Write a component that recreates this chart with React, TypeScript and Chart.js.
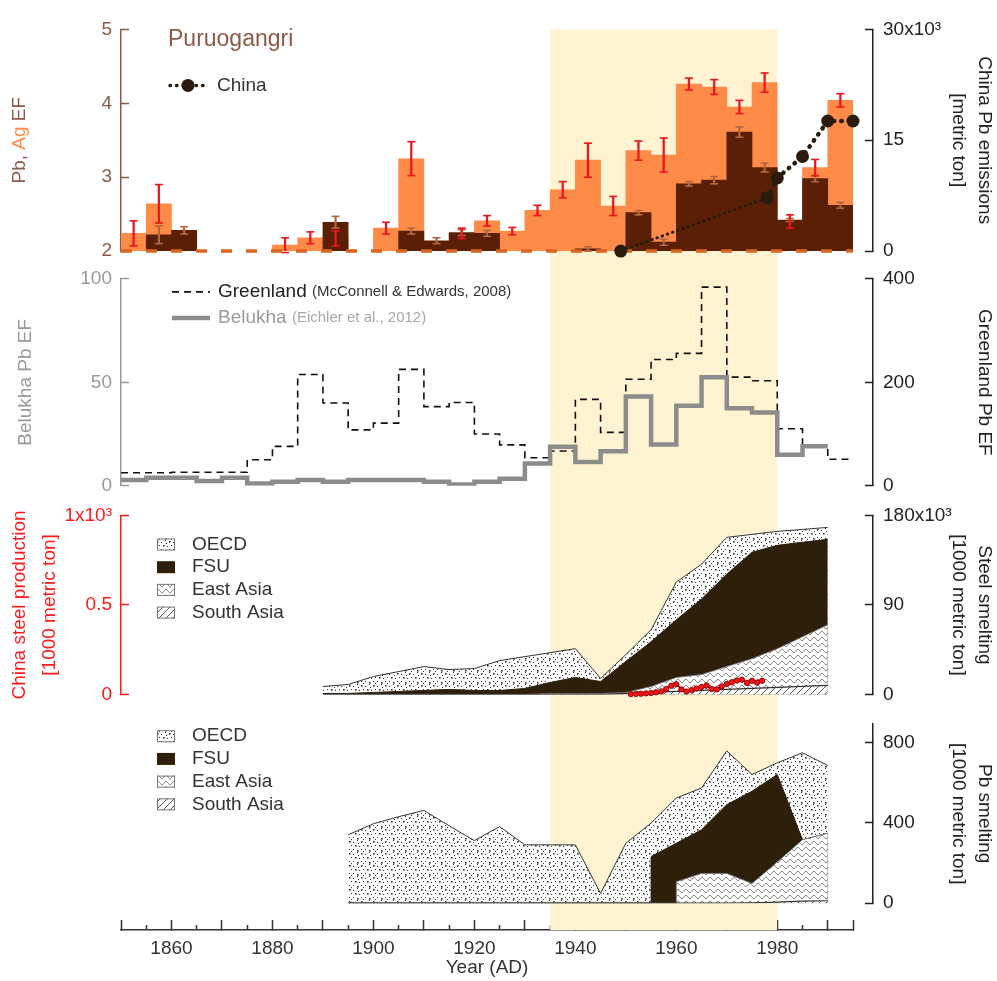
import { useEffect, useRef } from 'react';
import { Chart, registerables } from 'chart.js';

Chart.register(...registerables);

const FONT = '"Liberation Sans", Arial, Helvetica, sans-serif';

// ---------------- Shared x axis ----------------
const X_MIN = 1850;
const X_MAX = 1995;
const SHADE_YEARS = [1935, 1980];
const X_MAJOR_TICKS = [1850, 1860, 1870, 1880, 1890, 1900, 1910, 1920, 1930, 1940, 1950, 1960, 1970, 1980, 1990, 1995];
const X_MINOR_TICKS = [1855, 1865, 1875, 1885, 1895, 1905, 1915, 1925, 1935, 1945, 1955, 1965, 1975, 1985];
const X_TICK_LABELS = [1860, 1880, 1900, 1920, 1940, 1960, 1980];

// ---------------- (a) Puruogangri, 5-year bins ----------------
const BIN_START = [1850, 1855, 1860, 1865, 1870, 1875, 1880, 1885, 1890, 1895, 1900, 1905, 1910, 1915, 1920, 1925, 1930, 1935, 1940, 1945, 1950, 1955, 1960, 1965, 1970, 1975, 1980, 1985, 1990];
const BIN_WIDTH = 5;
const agEF = [2.24, 2.64, null, null, null, null, 2.08, 2.18, 2.17, null, 2.31, 3.25, null, 2.24, 2.41, 2.27, 2.55, 2.83, 3.23, 2.61, 3.36, 3.30, 4.26, 4.22, 3.95, 4.28, 2.40, 3.13, 4.04];
const agErr = [0.17, 0.26, null, null, null, null, 0.1, 0.08, 0.1, null, 0.08, 0.23, null, 0.07, 0.07, 0.05, 0.07, 0.11, 0.23, 0.13, 0.13, 0.23, 0.08, 0.1, 0.09, 0.13, 0.09, 0.11, 0.09];
const pbEF = [null, 2.22, 2.28, null, null, null, null, null, 2.39, null, null, 2.27, 2.14, 2.25, 2.24, null, null, null, 2.03, null, 2.52, 2.12, 2.91, 2.96, 3.61, 3.13, 2.42, 2.98, 2.62];
const pbErr = [null, 0.12, 0.05, null, null, null, null, null, 0.08, null, null, 0.04, 0.04, 0.04, 0.04, null, null, null, 0.03, null, 0.03, 0.04, 0.03, 0.05, 0.07, 0.06, 0.02, 0.04, 0.04];
const EF_BASELINE = 2;
const chinaPbYears = [1949, 1978, 1980, 1985, 1990, 1995];
const chinaPb = [0, 7.2, 9.9, 12.8, 17.6, 17.6]; // x10^3 metric ton
const TOP_L_TICKS = [2, 3, 4, 5];
const TOP_R_TICKS = [0, 15, 30];
const TOP_R_LABELS = ['0', '15', '30x10³'];

// ---------------- (b) Greenland / Belukha ----------------
const greenlandEF = [25, 25, 26, 26, 26, 50, 76, 215, 160, 108, 121, 225, 153, 161, 100, 79, 54, 67, 167, 103, 206, 244, 256, 384, 210, 203, 110, 76, 51];
const belukhaEF = [2.7, 3.8, 3.8, 2.2, 3.8, 1.1, 1.9, 2.7, 1.9, 2.7, 2.7, 2.7, 1.9, 0.6, 1.9, 3.4, 10.7, 18.8, 11.4, 16.7, 43.1, 19.9, 38.6, 52.4, 37.5, 35.4, 15, 19.1];
const MID_L_TICKS = [0, 50, 100];
const MID_R_TICKS = [0, 200, 400];

// ---------------- (c) Steel smelting (x10^3 [1000 metric ton]) ----------------
const steelYears = [1890, 1895, 1900, 1905, 1910, 1915, 1920, 1925, 1930, 1935, 1940, 1945, 1950, 1955, 1960, 1965, 1970, 1975, 1980, 1985, 1990];
const steelOECD = [7, 9, 16, 20, 24, 20, 22, 30, 32, 30, 29, 3, 7, 12, 38, 35, 37, 18, 14, 13, 12];
const steelFSU = [1, 1, 2, 3, 4, 5, 4, 4, 6, 11, 16, 12, 31, 45, 58, 76, 93, 107, 104, 95, 86];
const steelEastAsia = [0, 0, 0, 0, 0, 0, 0, 0, 0, 1, 1, 1, 1, 6, 14, 16, 23, 30, 39, 50, 61];
const steelSouthAsia = [0, 0, 0, 0, 0, 0, 0, 0, 0, 0, 0, 0, 1, 2, 3, 4, 5, 6, 7, 8, 9];
const chinaSteelYears = [1951, 1952, 1953, 1954, 1955, 1956, 1957, 1958, 1959, 1960, 1961, 1962, 1963, 1964, 1965, 1966, 1967, 1968, 1969, 1970, 1971, 1972, 1973, 1974, 1975, 1976, 1977];
const chinaSteel = [0.002, 0.003, 0.004, 0.006, 0.008, 0.012, 0.017, 0.030, 0.048, 0.057, 0.028, 0.016, 0.024, 0.033, 0.042, 0.050, 0.030, 0.028, 0.045, 0.058, 0.068, 0.078, 0.082, 0.064, 0.076, 0.066, 0.076];
const STEEL_L_TICKS = [0, 0.5, 1];
const STEEL_L_LABELS = ['0', '0.5', '1x10³'];
const STEEL_R_TICKS = [0, 90, 180];
const STEEL_R_LABELS = ['0', '90', '180x10³'];

// ---------------- (d) Pb smelting [1000 metric ton] ----------------
const pbYears = [1895, 1900, 1905, 1910, 1915, 1920, 1925, 1930, 1935, 1940, 1945, 1950, 1955, 1955, 1960, 1960, 1965, 1970, 1975, 1980, 1985, 1990];
const pbOECD = [340, 395, 430, 461, 385, 311, 381, 290, 290, 290, 48, 298, 398, 166, 225, 225, 208, 267, 83, 58, 433, 337];
const pbFSU = [0, 0, 0, 0, 0, 0, 0, 0, 0, 0, 0, 0, 0, 232, 298, 191, 217, 342, 459, 435, 0, 0];
const pbEastAsia = [0, 0, 0, 0, 0, 0, 0, 0, 0, 0, 0, 0, 0, 0, 0, 107, 148, 148, 96, 200, 305, 336];
const pbSouthAsia = [0, 0, 0, 0, 0, 0, 0, 0, 0, 0, 0, 0, 0, 0, 0, 0, 0, 0, 2, 5, 10, 12];
const PB_R_MAX = 890;
const PB_R_TICKS = [0, 400, 800];

const REGIONS = ['OECD', 'FSU', 'East Asia', 'South Asia'];

// ---------------- Layout / style ----------------
const W = 997;
const H = 981;
const PAD_TOP = 24;
const LEFT_COL = 121;
const RIGHT_GAP = 20;
const RIGHT_COL = 124;
const X_AXIS_H = 51;
const ROWS = { top: 223, g1: 28, mid: 208, g2: 30, steel: 180, g3: 30, pb: 180, g4: 27 };

const C = {
  band: '#FFF3D1',
  ag: '#FF8B48',
  pb: '#5B1F06',
  agErr: '#F0141E',
  pbErr: '#B4673F',
  baseline: '#D9661F',
  china: '#2A1C0C',
  brown: '#8C5A46',
  gray: '#999999',
  belukha: '#8C8C8C',
  red: '#FF1A1A',
  black: '#222222',
  fsu: '#2E1F0A',
};

function makePattern(w: number, h: number, draw: (g: CanvasRenderingContext2D) => void) {
  const c = document.createElement('canvas');
  c.width = w;
  c.height = h;
  const g = c.getContext('2d')!;
  g.fillStyle = '#ffffff';
  g.fillRect(0, 0, w, h);
  draw(g);
  return g.createPattern(c, 'repeat')!;
}

const DOT_TILE = [[1, 1, 1.6], [5, 2, 1], [9, 0, 1], [3, 5, 1], [7, 5, 1.6], [11, 6, 1], [1, 9, 1], [5, 9, 1], [9, 10, 1.6], [3, 11, 1], [10, 3, 1]];

function buildPatterns() {
  const dots = makePattern(12, 12, (g) => {
    g.fillStyle = '#333';
    for (const [x, y, s] of DOT_TILE) g.fillRect(x, y, s, s);
  });
  const wave = makePattern(8, 6, (g) => {
    g.strokeStyle = '#666';
    g.lineWidth = 1;
    g.beginPath();
    for (let x = 0; x <= 8; x += 0.5) {
      const y = 3 + 1.7 * Math.sin((2 * Math.PI * x) / 8);
      if (x === 0) g.moveTo(x, y);
      else g.lineTo(x, y);
    }
    g.stroke();
  });
  const hatch = makePattern(7, 7, (g) => {
    g.strokeStyle = '#555';
    g.lineWidth = 1;
    g.beginPath();
    g.moveTo(0, 7); g.lineTo(7, 0);
    g.moveTo(-1, 1); g.lineTo(1, -1);
    g.moveTo(6, 8); g.lineTo(8, 6);
    g.stroke();
  });
  return { dots, wave, hatch };
}

function cumulative(layers: number[][]) {
  const out: number[][] = [];
  let run = layers[0].map(() => 0);
  for (const l of layers) {
    run = run.map((v, i) => v + l[i]);
    out.push(run);
  }
  return out;
}

const pts = (xs: number[], ys: (number | null)[]) => xs.map((x, i) => ({ x, y: ys[i] }));
const binCenters = BIN_START.map((s) => s + BIN_WIDTH / 2);
const stepPts = (vals: number[]) => [
  ...vals.map((v, i) => ({ x: BIN_START[i], y: v })),
  { x: BIN_START[vals.length - 1] + BIN_WIDTH, y: vals[vals.length - 1] },
];

function valueAxis(o: any) {
  return {
    type: 'linear',
    axis: 'y',
    position: o.pos,
    stack: o.pos === 'left' ? 'L' : 'R',
    stackWeight: o.sw,
    weight: o.weight,
    min: o.min,
    max: o.max,
    z: 1,
    afterBuildTicks: (s: any) => { s.ticks = o.ticks.map((v: number) => ({ value: v })); },
    afterFit: (s: any) => { s.width = o.pos === 'left' ? LEFT_COL : RIGHT_COL; },
    grid: { display: true, drawOnChartArea: false, drawTicks: true, tickLength: -8, tickWidth: 1.5, tickColor: o.color },
    border: { display: true, color: o.color, width: 1.5 },
    ticks: {
      color: o.color,
      font: { size: 19, family: FONT },
      padding: o.pos === 'left' ? 17 : 18,
      autoSkip: false,
      callback: (_v: any, i: number) => (o.labels ? o.labels[i] : String(o.ticks[i])),
    },
    title: o.title || { display: false },
  };
}

function gapAxis(pos: string, sw: number, weight: number) {
  return {
    type: 'linear',
    axis: 'y',
    position: pos,
    stack: pos === 'left' ? 'L' : 'R',
    stackWeight: sw,
    weight,
    display: true,
    grid: { display: false },
    border: { display: false },
    ticks: { display: false },
    title: { display: false },
    afterFit: (s: any) => { s.width = pos === 'left' ? LEFT_COL : RIGHT_COL; },
  };
}

function rightTitle(text: string | string[]) {
  return { display: true, text, color: C.black, font: { size: 19, family: FONT, lineHeight: '26px' }, padding: { top: 0, bottom: 0 } };
}

function rotatedRuns(ctx: any, cx: number, cy: number, runs: any[], font: string) {
  ctx.save();
  ctx.translate(cx, cy);
  ctx.rotate(-Math.PI / 2);
  ctx.font = font;
  ctx.textBaseline = 'middle';
  ctx.textAlign = 'left';
  const total = runs.reduce((s, r) => s + ctx.measureText(r.text).width, 0);
  let x = -total / 2;
  for (const r of runs) {
    ctx.fillStyle = r.color;
    ctx.fillText(r.text, x, 0);
    x += ctx.measureText(r.text).width;
  }
  ctx.restore();
}

function textRuns(ctx: any, x: number, y: number, runs: any[]) {
  ctx.textBaseline = 'middle';
  ctx.textAlign = 'left';
  for (const r of runs) {
    ctx.font = `${r.size}px ${FONT}`;
    ctx.fillStyle = r.color;
    ctx.fillText(r.text, x, y);
    x += ctx.measureText(r.text).width;
  }
}

function makeOverlay(P: any) {
  return {
    id: 'overlay',
    afterDraw(chart: any) {
      const { ctx, scales } = chart;
      ctx.save();
      const f19 = `19px ${FONT}`;
      // multi-coloured left title of panel (a)
      const yt = scales.yTopL;
      rotatedRuns(ctx, yt.left + 20, (yt.top + yt.bottom) / 2, [
        { text: 'Pb, ', color: C.brown },
        { text: 'Ag', color: C.ag },
        { text: ' EF', color: C.brown },
      ], f19);
      // left title of panel (c)
      const ys = scales.ySteelL;
      const cy = (ys.top + ys.bottom) / 2;
      rotatedRuns(ctx, ys.left + 20, cy, [{ text: 'China steel production', color: C.red }], f19);
      rotatedRuns(ctx, ys.left + 50, cy, [{ text: '[1000 metric ton]', color: C.red }], f19);

      // panel (a) labels
      textRuns(ctx, 168, yt.top + 10, [{ text: 'Puruogangri', color: C.brown, size: 23 }]);
      const ly = yt.top + 56;
      ctx.save();
      ctx.strokeStyle = C.china;
      ctx.lineWidth = 3.5;
      ctx.lineCap = 'round';
      ctx.setLineDash([0.5, 6]);
      ctx.beginPath();
      ctx.moveTo(170, ly);
      ctx.lineTo(207, ly);
      ctx.stroke();
      ctx.setLineDash([]);
      ctx.fillStyle = C.china;
      ctx.beginPath();
      ctx.arc(188, ly, 6.5, 0, Math.PI * 2);
      ctx.fill();
      ctx.restore();
      textRuns(ctx, 217, ly, [{ text: 'China', color: '#333', size: 19 }]);

      // panel (b) legend
      const ym = scales.yMidL;
      const g1 = ym.top + 13;
      const g2 = ym.top + 39;
      ctx.save();
      ctx.strokeStyle = '#111';
      ctx.lineWidth = 1.6;
      ctx.setLineDash([7, 5]);
      ctx.beginPath();
      ctx.moveTo(172, g1);
      ctx.lineTo(210, g1);
      ctx.stroke();
      ctx.setLineDash([]);
      ctx.strokeStyle = C.belukha;
      ctx.lineWidth = 4.5;
      ctx.beginPath();
      ctx.moveTo(172, g2);
      ctx.lineTo(210, g2);
      ctx.stroke();
      ctx.restore();
      textRuns(ctx, 218, g1, [
        { text: 'Greenland ', color: '#222', size: 19 },
        { text: '(McConnell & Edwards, 2008)', color: '#333', size: 15 },
      ]);
      textRuns(ctx, 218, g2, [
        { text: 'Belukha ', color: '#9A9A9A', size: 19 },
        { text: '(Eichler et al., 2012)', color: '#A8A8A8', size: 15 },
      ]);

      // region legends for (c) and (d)
      const fills = [P.dots, C.fsu, P.wave, P.hatch];
      const legend = (top: number, step: number) => {
        REGIONS.forEach((name, i) => {
          const y = top + i * step;
          ctx.fillStyle = fills[i];
          ctx.fillRect(157, y - 6, 18, 12);
          if (i !== 1) {
            ctx.strokeStyle = '#777';
            ctx.lineWidth = 1;
            ctx.strokeRect(157.5, y - 5.5, 17, 11);
          }
          textRuns(ctx, 192, y, [{ text: name, color: '#333', size: 19 }]);
        });
      };
      legend(scales.ySteelR.top + 29, 22.7);
      legend(scales.yPbR.top + 12, 22.7);
      ctx.restore();
    },
  };
}

export default function App() {
  const ref = useRef<HTMLCanvasElement>(null);

  useEffect(() => {
    document.body.style.margin = '0';
    const canvas = ref.current;
    if (!canvas) return;
    Chart.defaults.font.family = FONT;
    Chart.defaults.font.size = 19;
    const P = buildPatterns();

    const [steelSAc, steelEAc, steelFSUc, steelAllc] = cumulative([steelSouthAsia, steelEastAsia, steelFSU, steelOECD]);
    const [pbSAc, pbEAc, pbFSUc, pbAllc] = cumulative([pbSouthAsia, pbEastAsia, pbFSU, pbOECD]);

    const errStems = (vals: any[], errs: any[], color: string, order: number) => ({
      type: 'bar',
      xAxisID: 'x',
      yAxisID: 'yTopL',
      data: binCenters.map((x, i) => ({ x, y: vals[i] == null ? null : [vals[i] - errs[i], vals[i] + errs[i]] })),
      backgroundColor: color,
      barThickness: 1.6,
      grouped: false,
      order,
    });
    const errCaps = (vals: any[], errs: any[], color: string, order: number) => {
      const data: any[] = [];
      binCenters.forEach((x, i) => {
        if (vals[i] != null) data.push({ x, y: vals[i] - errs[i] }, { x, y: vals[i] + errs[i] });
      });
      return {
        type: 'scatter', xAxisID: 'x', yAxisID: 'yTopL', data,
        pointStyle: 'line', pointRadius: 4, pointBorderWidth: 1.6,
        pointBorderColor: color, pointBackgroundColor: color, borderColor: color,
        clip: false, order,
      };
    };
    const area = (xs: number[], ys: number[], axis: string, fill: any, line: string, lw: number, order: number) => ({
      type: 'line', xAxisID: 'x', yAxisID: axis, data: pts(xs, ys),
      fill: 'origin', backgroundColor: fill, borderColor: line, borderWidth: lw,
      pointRadius: 0, tension: 0, order,
    });

    const datasets: any[] = [
      // shaded period
      {
        type: 'line', xAxisID: 'x', yAxisID: 'yBand',
        data: [{ x: SHADE_YEARS[0], y: 1 }, { x: SHADE_YEARS[1], y: 1 }],
        fill: 'origin', backgroundColor: C.band, borderColor: C.band, borderWidth: 1, pointRadius: 0, order: 100,
      },
      // (a)
      {
        type: 'bar', xAxisID: 'x', yAxisID: 'yTopL', data: pts(binCenters, agEF), base: EF_BASELINE,
        backgroundColor: C.ag, grouped: false, barPercentage: 1, categoryPercentage: 1, order: 60,
      },
      {
        type: 'bar', xAxisID: 'x', yAxisID: 'yTopL', data: pts(binCenters, pbEF), base: EF_BASELINE,
        backgroundColor: C.pb, grouped: false, barPercentage: 1, categoryPercentage: 1, order: 59,
      },
      errStems(pbEF, pbErr, C.pbErr, 58),
      errCaps(pbEF, pbErr, C.pbErr, 57),
      errStems(agEF, agErr, C.agErr, 56),
      errCaps(agEF, agErr, C.agErr, 55),
      {
        type: 'line', xAxisID: 'x', yAxisID: 'yTopL',
        data: [{ x: X_MIN, y: EF_BASELINE }, { x: X_MAX, y: EF_BASELINE }],
        borderColor: C.baseline, borderWidth: 3.5, borderDash: [11, 14], pointRadius: 0, fill: false, clip: false, order: 54,
      },
      {
        type: 'line', xAxisID: 'x', yAxisID: 'yTopR', data: pts(chinaPbYears, chinaPb),
        borderColor: C.china, borderWidth: 4, borderCapStyle: 'round', borderDash: [0.5, 6],
        segment: {
          borderWidth: (c: any) => (c.p0DataIndex === 0 ? 3 : 4.5),
          borderDash: (c: any) => (c.p0DataIndex === 0 ? [0.5, 5] : [0.5, 7]),
        },
        pointRadius: 6.5, pointBackgroundColor: C.china, pointBorderColor: C.china, pointBorderWidth: 0,
        fill: false, clip: false, order: 10,
      },
      // (b)
      {
        type: 'line', xAxisID: 'x', yAxisID: 'yMidR', data: stepPts(greenlandEF), stepped: true,
        borderColor: '#111', borderWidth: 1.6, borderDash: [7, 5], pointRadius: 0, fill: false, order: 41,
      },
      {
        type: 'line', xAxisID: 'x', yAxisID: 'yMidL', data: stepPts(belukhaEF), stepped: true,
        borderColor: C.belukha, borderWidth: 4.5, pointRadius: 0, fill: false, order: 40,
      },
      // (c)
      area(steelYears, steelAllc, 'ySteelR', P.dots, '#333', 1, 34),
      area(steelYears, steelFSUc, 'ySteelR', C.fsu, C.fsu, 1, 33),
      area(steelYears, steelEAc, 'ySteelR', P.wave, '#777', 0.8, 32),
      area(steelYears, steelSAc, 'ySteelR', P.hatch, '#333', 1.2, 31),
      {
        type: 'line', xAxisID: 'x', yAxisID: 'ySteelL', data: pts(chinaSteelYears, chinaSteel),
        borderColor: '#6A0808', borderWidth: 1.5, pointRadius: 2.7, pointBackgroundColor: '#FF1010',
        pointBorderColor: '#6A0000', pointBorderWidth: 0.8, fill: false, clip: false, order: 30,
      },
      // (d)
      area(pbYears, pbAllc, 'yPbR', P.dots, '#333', 1, 24),
      area(pbYears, pbFSUc, 'yPbR', C.fsu, C.fsu, 1, 23),
      area(pbYears, pbEAc, 'yPbR', P.wave, '#777', 0.8, 22),
      area(pbYears, pbSAc, 'yPbR', P.hatch, '#333', 1.2, 21),
    ];

    const scales: any = {
      x: {
        type: 'linear', axis: 'x', position: 'bottom', min: X_MIN, max: X_MAX, z: 1, offset: false,
        afterBuildTicks: (s: any) => { s.ticks = X_MAJOR_TICKS.map((v) => ({ value: v })); },
        afterFit: (s: any) => { s.height = X_AXIS_H; },
        grid: { display: true, offset: false, drawOnChartArea: false, drawTicks: true, tickLength: -10, tickWidth: 1.5, tickColor: '#333' },
        border: { display: true, color: '#333', width: 1.5 },
        ticks: {
          autoSkip: false, maxRotation: 0, padding: 17, color: '#333', font: { size: 19, family: FONT },
          callback: (v: any) => (X_TICK_LABELS.includes(v) ? String(v) : ''),
        },
        title: { display: true, text: 'Year (AD)', color: '#333', font: { size: 19, family: FONT }, padding: { top: 0, bottom: 2 } },
      },
      xMinor: {
        type: 'linear', axis: 'x', position: { yBand: 0 }, min: X_MIN, max: X_MAX, z: 1, offset: false,
        afterBuildTicks: (s: any) => { s.ticks = X_MINOR_TICKS.map((v) => ({ value: v })); },
        grid: { display: true, offset: false, drawOnChartArea: false, drawTicks: true, tickLength: -5, tickWidth: 1.5, tickColor: '#333' },
        border: { display: false },
        ticks: { display: false },
        title: { display: false },
      },
      yBand: { type: 'linear', axis: 'y', position: 'left', weight: 20, min: 0, max: 1, display: false },
      // left column (stacked top to bottom)
      yTopL: valueAxis({ pos: 'left', sw: ROWS.top, weight: 8, min: 2, max: 5, ticks: TOP_L_TICKS, color: C.brown }),
      gapL1: gapAxis('left', ROWS.g1, 7),
      yMidL: valueAxis({
        pos: 'left', sw: ROWS.mid, weight: 6, min: 0, max: 100, ticks: MID_L_TICKS, color: C.gray,
        title: { display: true, text: 'Belukha Pb EF', color: C.gray, font: { size: 19, family: FONT }, padding: { top: 14, bottom: 0 } },
      }),
      gapL2: gapAxis('left', ROWS.g2, 5),
      ySteelL: valueAxis({ pos: 'left', sw: ROWS.steel, weight: 4, min: 0, max: 1, ticks: STEEL_L_TICKS, labels: STEEL_L_LABELS, color: C.red }),
      gapL3: gapAxis('left', ROWS.g3, 3),
      yPbL: gapAxis('left', ROWS.pb, 2),
      gapL4: gapAxis('left', ROWS.g4, 1),
      // right column
      yGapR: {
        type: 'linear', axis: 'y', position: 'right', weight: 0, display: true,
        grid: { display: false }, border: { display: false }, ticks: { display: false }, title: { display: false },
        afterFit: (s: any) => { s.width = RIGHT_GAP; },
      },
      yTopR: valueAxis({ pos: 'right', sw: ROWS.top, weight: 1, min: 0, max: 30, ticks: TOP_R_TICKS, labels: TOP_R_LABELS, color: C.black, title: rightTitle(['China Pb emissions', '[metric ton]']) }),
      gapR1: gapAxis('right', ROWS.g1, 2),
      yMidR: valueAxis({ pos: 'right', sw: ROWS.mid, weight: 3, min: 0, max: 400, ticks: MID_R_TICKS, color: C.black, title: rightTitle('Greenland Pb EF') }),
      gapR2: gapAxis('right', ROWS.g2, 4),
      ySteelR: valueAxis({ pos: 'right', sw: ROWS.steel, weight: 5, min: 0, max: 180, ticks: STEEL_R_TICKS, labels: STEEL_R_LABELS, color: C.black, title: rightTitle(['Steel smelting', '[1000 metric ton]']) }),
      gapR3: gapAxis('right', ROWS.g3, 6),
      yPbR: valueAxis({ pos: 'right', sw: ROWS.pb, weight: 7, min: 0, max: PB_R_MAX, ticks: PB_R_TICKS, color: C.black, title: rightTitle(['Pb smelting', '[1000 metric ton]']) }),
      gapR4: gapAxis('right', ROWS.g4, 8),
    };

    const chart = new Chart(canvas, {
      type: 'line',
      data: { datasets },
      options: {
        animation: false,
        responsive: false,
        maintainAspectRatio: false,
        devicePixelRatio: 1,
        events: [],
        layout: { padding: { top: PAD_TOP, left: 0, right: 0, bottom: 0 } },
        plugins: { legend: { display: false }, tooltip: { enabled: false } },
        scales,
      } as any,
      plugins: [makeOverlay(P)],
    } as any);

    return () => chart.destroy();
  }, []);

  return (
    <div style={{ width: W, height: H, position: 'relative', background: '#ffffff' }}>
      <canvas ref={ref} width={W} height={H} style={{ display: 'block', width: W, height: H }} />
    </div>
  );
}
